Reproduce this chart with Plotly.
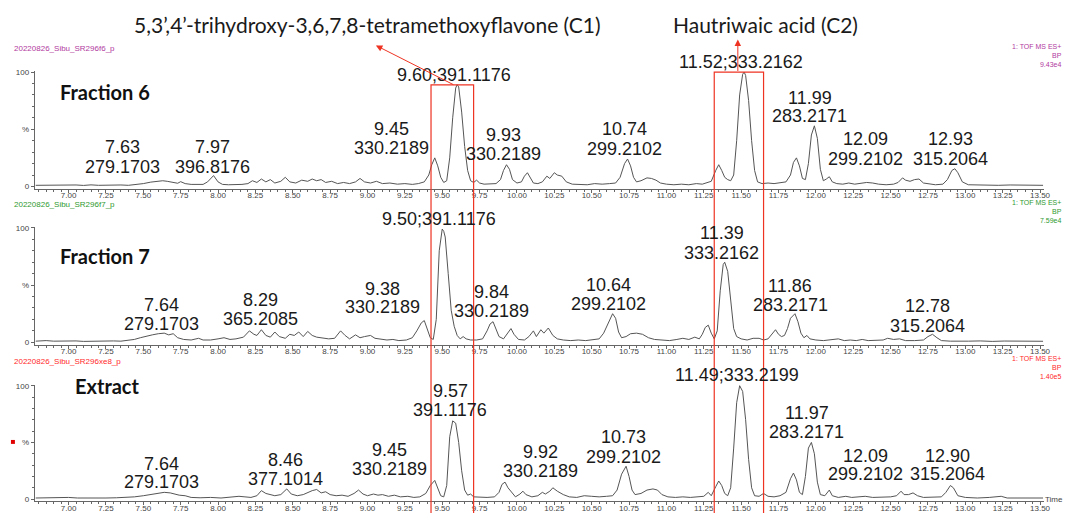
import plotly.graph_objects as go

W, H = 1068, 513

# ---- base peak chromatograms: retention time (min) / relative intensity (%) ----
f6_time = [6.78, 6.85, 6.90, 6.95, 7.00, 7.05, 7.10, 7.15, 7.20, 7.25, 7.30, 7.35, 7.40, 7.45,
           7.50, 7.55, 7.60, 7.63, 7.66, 7.70, 7.73, 7.75, 7.78, 7.82, 7.86, 7.90, 7.93, 7.97,
           8.00, 8.03, 8.07, 8.12, 8.16, 8.20, 8.23, 8.26, 8.29, 8.32, 8.35, 8.38, 8.42, 8.45,
           8.48, 8.52, 8.56, 8.60, 8.63, 8.66, 8.69, 8.72, 8.76, 8.80, 8.84, 8.88, 8.92, 8.95,
           8.98, 9.02, 9.06, 9.10, 9.15, 9.20, 9.25, 9.30, 9.34, 9.38, 9.41, 9.43, 9.45, 9.47,
           9.49, 9.51, 9.53, 9.55, 9.57, 9.59, 9.60, 9.61, 9.63, 9.65, 9.67, 9.69, 9.71, 9.73,
           9.75, 9.78, 9.82, 9.86, 9.89, 9.91, 9.93, 9.95, 9.97, 10.00, 10.03, 10.05, 10.07,
           10.09, 10.11, 10.14, 10.17, 10.20, 10.22, 10.25, 10.27, 10.30, 10.33, 10.37, 10.42,
           10.47, 10.52, 10.57, 10.62, 10.66, 10.69, 10.72, 10.74, 10.76, 10.78, 10.80, 10.83,
           10.87, 10.90, 10.93, 10.96, 11.00, 11.05, 11.10, 11.15, 11.20, 11.24, 11.27, 11.30,
           11.33, 11.35, 11.37, 11.39, 11.41, 11.43, 11.45, 11.47, 11.49, 11.51, 11.52, 11.53,
           11.55, 11.57, 11.59, 11.61, 11.64, 11.68, 11.72, 11.76, 11.80, 11.83, 11.85, 11.87,
           11.89, 11.91, 11.93, 11.95, 11.97, 11.99, 12.01, 12.03, 12.05, 12.07, 12.09, 12.11,
           12.14, 12.18, 12.22, 12.26, 12.30, 12.34, 12.38, 12.42, 12.47, 12.52, 12.55, 12.58,
           12.60, 12.63, 12.66, 12.69, 12.72, 12.76, 12.80, 12.85, 12.88, 12.91, 12.93, 12.95,
           12.98, 13.02, 13.08, 13.15, 13.22, 13.30, 13.38, 13.45, 13.52]
f6_int = [1.0, 1.2, 0.8, 1.5, 1.0, 1.3, 0.9, 1.4, 1.0, 1.2, 0.9, 1.3, 1.0, 1.6,
          2.5, 3.8, 4.6, 5.0, 4.5, 3.2, 2.8, 4.2, 2.5, 1.8, 1.5, 1.8, 4.0, 9.5,
          4.0, 1.8, 1.5, 1.4, 1.8, 2.5, 5.0, 3.5, 6.5, 4.0, 6.0, 3.0, 4.5, 8.0,
          4.0, 3.0, 5.5, 4.5, 6.5, 5.0, 6.0, 3.5, 4.5, 2.5, 3.5, 2.5, 4.0, 7.0,
          4.0, 3.0, 4.5, 2.5, 3.0, 2.0, 2.5, 1.8, 2.5, 4.0, 10.0, 19.0, 25.0, 18.0,
          8.0, 3.5, 5.0, 25.0, 60.0, 86.0, 89.0, 87.0, 65.0, 35.0, 14.0, 5.0, 3.5, 5.5,
          3.0, 2.0, 2.0, 2.5, 6.0, 14.0, 19.0, 15.0, 6.0, 3.0, 4.0, 9.0, 12.0,
          8.0, 3.0, 2.5, 4.0, 9.0, 7.0, 12.0, 10.0, 9.0, 4.0, 2.0, 2.0,
          1.5, 2.5, 2.0, 2.5, 3.0, 8.0, 20.0, 24.0, 18.0, 8.0, 4.0, 5.0,
          7.5, 7.0, 5.5, 3.0, 2.0, 1.5, 2.0, 1.5, 2.5, 2.0, 3.0, 4.5,
          14.0, 19.0, 14.0, 8.0, 6.0, 5.0, 10.0, 40.0, 80.0, 98.0, 100.0, 97.0,
          75.0, 40.0, 14.0, 4.0, 2.5, 3.0, 2.5, 3.0, 4.0, 10.0, 21.0, 25.0,
          18.0, 7.0, 6.0, 20.0, 45.0, 53.0, 42.0, 15.0, 5.0, 6.5, 8.5, 4.0,
          2.5, 2.0, 3.0, 2.0, 2.5, 3.5, 3.0, 2.0, 1.5, 2.0, 3.5, 7.5,
          5.5, 4.5, 6.0, 6.5, 3.0, 2.0, 1.5, 2.0, 6.0, 14.0, 15.5, 12.0,
          4.0, 1.5, 1.2, 1.5, 1.0, 1.3, 1.0, 1.2, 1.0]

f7_time = [6.78, 6.85, 6.90, 6.95, 7.00, 7.05, 7.10, 7.15, 7.20, 7.25, 7.30, 7.35, 7.40, 7.44,
           7.48, 7.52, 7.56, 7.60, 7.64, 7.67, 7.70, 7.73, 7.77, 7.82, 7.87, 7.90, 7.95, 8.00,
           8.04, 8.08, 8.12, 8.17, 8.21, 8.24, 8.26, 8.29, 8.32, 8.35, 8.38, 8.41, 8.45, 8.48,
           8.51, 8.54, 8.57, 8.60, 8.63, 8.66, 8.70, 8.74, 8.78, 8.82, 8.85, 8.88, 8.92, 8.95,
           8.98, 9.02, 9.05, 9.09, 9.13, 9.17, 9.21, 9.26, 9.30, 9.33, 9.36, 9.38, 9.40, 9.42,
           9.44, 9.46, 9.48, 9.50, 9.51, 9.52, 9.54, 9.56, 9.58, 9.60, 9.62, 9.64, 9.66, 9.69,
           9.73, 9.77, 9.80, 9.82, 9.84, 9.86, 9.88, 9.91, 9.94, 9.96, 9.98, 10.01, 10.05,
           10.08, 10.11, 10.13, 10.16, 10.18, 10.21, 10.24, 10.27, 10.31, 10.36, 10.41, 10.46,
           10.51, 10.55, 10.58, 10.62, 10.64, 10.66, 10.68, 10.70, 10.73, 10.76, 10.80, 10.84,
           10.88, 10.92, 10.97, 11.02, 11.07, 11.11, 11.15, 11.19, 11.22, 11.24, 11.26, 11.28,
           11.30, 11.32, 11.34, 11.36, 11.38, 11.39, 11.41, 11.43, 11.45, 11.47, 11.50, 11.54,
           11.58, 11.62, 11.65, 11.68, 11.71, 11.73, 11.75, 11.77, 11.79, 11.81, 11.83, 11.86,
           11.88, 11.90, 11.92, 11.94, 11.96, 12.00, 12.05, 12.10, 12.15, 12.19, 12.23, 12.27,
           12.31, 12.35, 12.40, 12.45, 12.48, 12.52, 12.56, 12.60, 12.66, 12.72, 12.75, 12.78,
           12.81, 12.84, 12.90, 12.96, 13.02, 13.10, 13.18, 13.26, 13.34, 13.42, 13.52]
f7_int = [1.0, 1.5, 1.0, 1.2, 0.8, 1.2, 0.8, 1.0, 1.3, 1.0, 1.2, 1.0, 1.5, 2.5,
          4.0, 5.5, 6.5, 7.5, 8.0, 6.5, 7.5, 4.0, 2.5, 2.0, 3.5, 2.0, 2.0, 3.0,
          4.0, 2.5, 3.0, 4.5, 10.0, 7.0, 6.0, 11.0, 6.0, 4.5, 9.0, 5.0, 3.5, 7.0,
          6.0, 9.0, 5.0, 9.5, 6.0, 4.5, 4.0, 3.0, 3.5, 10.0, 6.0, 3.0, 6.5, 4.0,
          5.0, 6.0, 3.5, 2.5, 2.0, 2.5, 1.5, 2.0, 4.0, 10.0, 17.0, 19.0, 12.0, 4.0,
          2.5, 20.0, 80.0, 99.0, 97.0, 92.0, 60.0, 28.0, 14.0, 6.0, 3.0, 5.0, 3.0, 2.0,
          2.0, 3.0, 10.0, 16.0, 18.0, 12.0, 5.0, 3.0, 8.0, 12.0, 7.0, 2.5, 2.0,
          5.0, 10.0, 5.0, 11.0, 8.0, 12.5, 6.0, 3.0, 2.0, 1.5, 2.0, 1.5,
          2.0, 3.0, 8.0, 20.0, 25.0, 21.0, 9.0, 4.0, 5.0, 7.5, 8.0, 7.0,
          4.0, 2.5, 2.0, 1.5, 2.5, 3.5, 2.5, 4.5, 3.0, 7.0, 13.0, 15.0,
          8.0, 3.0, 10.0, 45.0, 68.0, 70.0, 62.0, 35.0, 12.0, 5.0, 3.0, 2.0,
          3.5, 3.5, 2.0, 3.0, 8.0, 11.0, 7.0, 5.0, 6.0, 12.0, 21.0, 25.0,
          18.0, 8.0, 4.0, 6.0, 3.0, 2.0, 1.5, 2.0, 3.0, 1.5, 2.0, 1.5,
          2.5, 1.5, 1.5, 2.0, 3.5, 2.5, 3.0, 1.5, 1.5, 2.0, 5.0, 7.0,
          4.0, 1.5, 1.0, 1.3, 1.0, 1.2, 0.8, 1.1, 0.9, 1.1, 0.9]

ext_time = [6.78, 6.85, 6.92, 7.00, 7.06, 7.12, 7.18, 7.25, 7.32, 7.38, 7.44, 7.50, 7.56, 7.60,
            7.64, 7.68, 7.74, 7.78, 7.82, 7.88, 7.95, 8.02, 8.08, 8.14, 8.18, 8.22, 8.26, 8.29,
            8.32, 8.35, 8.38, 8.42, 8.46, 8.49, 8.53, 8.57, 8.60, 8.63, 8.66, 8.69, 8.72, 8.75,
            8.79, 8.83, 8.87, 8.91, 8.94, 8.97, 9.00, 9.04, 9.07, 9.10, 9.14, 9.18, 9.22, 9.27,
            9.31, 9.35, 9.39, 9.42, 9.45, 9.47, 9.49, 9.51, 9.53, 9.55, 9.57, 9.59, 9.61, 9.63,
            9.65, 9.67, 9.69, 9.71, 9.75, 9.80, 9.85, 9.88, 9.90, 9.92, 9.94, 9.97, 9.99, 10.02,
            10.04, 10.06, 10.10, 10.14, 10.17, 10.19, 10.22, 10.24, 10.27, 10.31, 10.35, 10.40,
            10.45, 10.50, 10.55, 10.60, 10.64, 10.67, 10.70, 10.73, 10.75, 10.77, 10.79, 10.83,
            10.87, 10.91, 10.94, 10.97, 11.01, 11.06, 11.11, 11.16, 11.21, 11.25, 11.28, 11.30,
            11.33, 11.35, 11.37, 11.39, 11.41, 11.43, 11.45, 11.47, 11.49, 11.51, 11.53, 11.55,
            11.57, 11.59, 11.62, 11.65, 11.68, 11.72, 11.76, 11.80, 11.83, 11.85, 11.87, 11.89,
            11.91, 11.93, 11.95, 11.97, 11.99, 12.01, 12.03, 12.06, 12.09, 12.11, 12.15, 12.20,
            12.24, 12.28, 12.33, 12.38, 12.44, 12.50, 12.54, 12.57, 12.59, 12.62, 12.65, 12.68,
            12.72, 12.78, 12.84, 12.87, 12.90, 12.92, 12.95, 13.00, 13.08, 13.16, 13.24, 13.28,
            13.36, 13.44, 13.52]
ext_int = [1.0, 1.2, 0.8, 1.5, 1.0, 1.2, 0.8, 1.0, 1.2, 1.5, 2.0, 3.0, 4.5, 5.0,
           6.0, 5.5, 3.5, 3.0, 1.5, 1.2, 1.5, 1.0, 1.5, 2.5, 2.0, 1.5, 3.0, 7.5,
           5.0, 4.0, 3.0, 4.0, 9.0, 4.5, 3.0, 4.0, 6.0, 7.5, 8.5, 5.5, 6.5, 4.0,
           3.0, 3.5, 2.5, 5.0, 8.0, 4.5, 3.0, 4.5, 3.5, 4.0, 2.5, 3.5, 2.0, 2.5,
           1.5, 2.0, 5.0, 12.0, 16.5, 10.0, 3.0, 2.0, 12.0, 55.0, 69.0, 67.0, 50.0, 25.0,
           8.0, 3.5, 4.5, 2.0, 1.5, 1.5, 2.0, 6.0, 13.0, 15.0, 10.0, 5.0, 2.0, 4.5,
           7.0, 4.0, 2.0, 3.0, 6.0, 4.5, 7.0, 10.0, 7.0, 4.0, 2.0, 1.5,
           3.0, 2.5, 2.0, 2.5, 3.0, 8.0, 22.0, 29.0, 20.0, 8.0, 4.0, 5.0,
           8.0, 9.0, 8.0, 4.0, 2.0, 1.5, 2.0, 1.5, 2.0, 2.5, 6.0, 3.0,
           11.0, 16.0, 12.0, 5.0, 3.0, 10.0, 45.0, 85.0, 100.0, 95.0, 70.0, 35.0,
           10.0, 3.0, 2.5, 5.0, 2.5, 2.0, 3.0, 6.0, 18.0, 23.0, 17.0, 6.0,
           4.0, 20.0, 45.0, 50.0, 40.0, 15.0, 4.0, 3.0, 8.0, 3.0, 1.5, 2.5,
           1.5, 2.0, 2.5, 1.5, 1.5, 2.0, 3.0, 7.0, 4.0, 4.0, 5.5, 3.0,
           1.5, 1.5, 2.0, 6.0, 12.0, 10.0, 3.0, 1.5, 1.0, 1.5, 2.5, 1.0,
           1.2, 0.8, 1.0]

# ---- annotated peaks: retention time / m/z ----
f6_peak_rt = ["7.63", "7.97", "9.45", "9.60", "9.93", "10.74", "11.52", "11.99", "12.09", "12.93"]
f6_peak_mz = ["279.1703", "396.8176", "330.2189", "391.1176", "330.2189", "299.2102",
              "333.2162", "283.2171", "299.2102", "315.2064"]
f7_peak_rt = ["7.64", "8.29", "9.38", "9.50", "9.84", "10.64", "11.39", "11.86", "12.78"]
f7_peak_mz = ["279.1703", "365.2085", "330.2189", "391.1176", "330.2189", "299.2102",
              "333.2162", "283.2171", "315.2064"]
ext_peak_rt = ["7.64", "8.46", "9.45", "9.57", "9.92", "10.73", "11.49", "11.97", "12.09", "12.90"]
ext_peak_mz = ["279.1703", "377.1014", "330.2189", "391.1176", "330.2189", "299.2102",
               "333.2199", "283.2171", "299.2102", "315.2064"]

run_names = ["20220826_Sibu_SR296f6_p", "20220826_Sibu_SR296f7_p", "20220826_Sibu_SR296xe8_p"]
run_scale = ["9.43e4", "7.59e4", "1.40e5"]
run_titles = ["Fraction 6", "Fraction 7", "Extract"]
compound_names = ["5,3\u2019,4\u2019-trihydroxy-3,6,7,8-tetramethoxyflavone (C1)", "Hautriwaic acid (C2)"]

# ---- layout helpers (pixel positions on the page) ----
def py(p):
    return (H - p) / H

def px(p):
    return p / W

X_RANGE = [6.774, 13.527]
X_DOM = [35 / W, 1050 / W]
# (pixel row of 0 %, pixels per %)
panel_base = [(186, 1.16), (344, 1.16), (503, 1.15)]
run_colors = ["#b23aa0", "#2f9a2f", "#ff2a2a"]

# label placement: (centre time, first line row, second line row or None)
label_pos = [
    [(7.36, 146, 166), (7.96, 146, 166), (9.16, 128, 147), (9.58, 73, None), (9.91, 134, 153),
     (10.72, 128, 148), (11.50, 60, None), (11.96, 96, 115), (12.33, 138, 158), (12.90, 138, 158)],
    [(7.625, 306, 325), (8.284, 301, 320), (9.10, 290, 308), (9.48, 219, None), (9.83, 293, 312),
     (10.61, 286, 305), (11.37, 233, 253), (11.83, 287, 306), (12.75, 307, 327)],
    [(7.625, 467, 486), (8.45, 463, 483), (9.15, 453, 472), (9.555, 393, 413), (10.155, 455, 474),
     (10.71, 440, 460), (11.47, 377, None), (11.94, 416, 435), (12.33, 459, 478), (12.88, 459, 478)],
]
title_pos = [(58, 90), (58, 256), (73, 388)]

traces = [(f6_time, f6_int), (f7_time, f7_int), (ext_time, ext_int)]
peaks = [(f6_peak_rt, f6_peak_mz), (f7_peak_rt, f7_peak_mz), (ext_peak_rt, ext_peak_mz)]

fig = go.Figure()
layout = dict(width=W, height=H, margin=dict(l=0, r=0, t=0, b=0),
              paper_bgcolor="white", plot_bgcolor="white", showlegend=False)

axis_color = "#666666"
tick_font = dict(family="Liberation Sans, Arial", size=8, color="#444444")
label_font = dict(family="Liberation Sans, Arial", size=18, color="#1a1a1a")

annotations = []
shapes = []

for i in range(3):
    sfx = "" if i == 0 else str(i + 1)
    t, v = traces[i]
    fig.add_trace(go.Scatter(x=t, y=v, mode="lines", xaxis="x" + sfx, yaxis="y" + sfx,
                             line=dict(color="#555555", width=1), hoverinfo="skip"))
    base, k = panel_base[i]
    layout["xaxis" + sfx] = dict(
        range=X_RANGE, domain=X_DOM, anchor="y" + sfx, showline=True, linecolor=axis_color,
        linewidth=1, ticks="outside", ticklen=3, tickcolor=axis_color, tick0=7, dtick=0.25,
        tickformat=".2f", tickfont=tick_font, showgrid=False, zeroline=False,
        ticklabelstandoff=-4,
        minor=dict(tick0=7, dtick=0.05, ticks="outside", ticklen=2, tickcolor=axis_color))
    layout["yaxis" + sfx] = dict(
        range=[-2, 101], domain=[py(base + 2 * k), py(base - 101 * k)], anchor="x" + sfx,
        showline=True, linecolor=axis_color, linewidth=1, ticks="outside", ticklen=3,
        tickcolor=axis_color, tickvals=[0, 50, 100], ticktext=["0", "%", "100"],
        tickfont=tick_font, showgrid=False, zeroline=False,
        minor=dict(tickvals=[10, 20, 30, 40, 60, 70, 80, 90], ticks="outside", ticklen=2,
                   tickcolor=axis_color))

    # peak labels
    rts, mzs = peaks[i]
    for (xc, r1, r2), rt, mz in zip(label_pos[i], rts, mzs):
        if r2 is None:
            annotations.append(dict(x=xc, y=py(r1), xref="x" + sfx, yref="paper",
                                    text=f"{rt};{mz}", showarrow=False, font=label_font,
                                    xanchor="center", yanchor="middle", height=18))
        else:
            for row, txt in ((r1, rt), (r2, mz)):
                annotations.append(dict(x=xc, y=py(row), xref="x" + sfx, yref="paper",
                                        text=txt, showarrow=False, font=label_font,
                                        xanchor="center", yanchor="middle", height=18))

    # run title
    tx, ty = title_pos[i]
    annotations.append(dict(x=px(tx), y=py(ty), xref="paper", yref="paper",
                            text=f"<b>{run_titles[i]}</b>", showarrow=False,
                            font=dict(family="Lato", size=20, color="#111111"),
                            xanchor="left", yanchor="middle"))

    # instrument header text
    name_rows = [46, 204, 363]
    annotations.append(dict(x=px(12), y=py(name_rows[i]), xref="paper", yref="paper",
                            text=run_names[i], showarrow=False,
                            font=dict(family="Liberation Sans, Arial", size=8, color=run_colors[i]),
                            xanchor="left", yanchor="middle"))
    right_centre = [53, 211, 370]
    annotations.append(dict(x=px(1070), y=py(right_centre[i]), xref="paper", yref="paper",
                            text="1: TOF MS ES+<br>BP<br>" + run_scale[i], showarrow=False,
                            align="right",
                            font=dict(family="Liberation Sans, Arial", size=7, color=run_colors[i]),
                            xanchor="right", yanchor="middle"))

annotations.append(dict(x=px(1049), y=py(503), xref="paper", yref="paper", text="Time",
                        showarrow=False, font=dict(family="Liberation Sans, Arial", size=8,
                                                   color="#444444"),
                        xanchor="left", yanchor="middle"))

# compound names with pointing arrows
name_font = dict(family="Lato", size=21, color="#1a1a1a")
annotations.append(dict(x=px(370), y=py(22), xref="paper", yref="paper", text=compound_names[0],
                        showarrow=False, font=name_font, xanchor="center", yanchor="middle"))
annotations.append(dict(x=px(770), y=py(22), xref="paper", yref="paper", text=compound_names[1],
                        showarrow=False, font=name_font, xanchor="center", yanchor="middle"))
red = "#ee3322"
annotations.append(dict(x=px(378), y=py(43), xref="paper", yref="paper", text="",
                        showarrow=True, ax=79, ay=40, arrowcolor=red, arrowwidth=1,
                        arrowhead=2, arrowsize=1.3, standoff=0, startstandoff=0))
annotations.append(dict(x=px(742), y=py(37), xref="paper", yref="paper", text="",
                        showarrow=True, ax=0, ay=33, arrowcolor=red, arrowwidth=1,
                        arrowhead=2, arrowsize=1.3, standoff=0, startstandoff=0))

# highlight boxes around C1 and C2 across all runs
shapes.append(dict(type="rect", xref="x", yref="paper", x0=9.425, x1=9.71,
                   y0=py(520), y1=py(83), line=dict(color=red, width=1.2)))
shapes.append(dict(type="rect", xref="x", yref="paper", x0=11.32, x1=11.65,
                   y0=py(520), y1=py(70), line=dict(color=red, width=1.2)))
shapes.append(dict(type="rect", xref="paper", yref="paper", x0=px(11), x1=px(15),
                   y0=py(447), y1=py(443), fillcolor="#e00000", line=dict(width=0)))

layout["annotations"] = annotations
layout["shapes"] = shapes
fig.update_layout(**layout)
fig.write_html("out.html")
